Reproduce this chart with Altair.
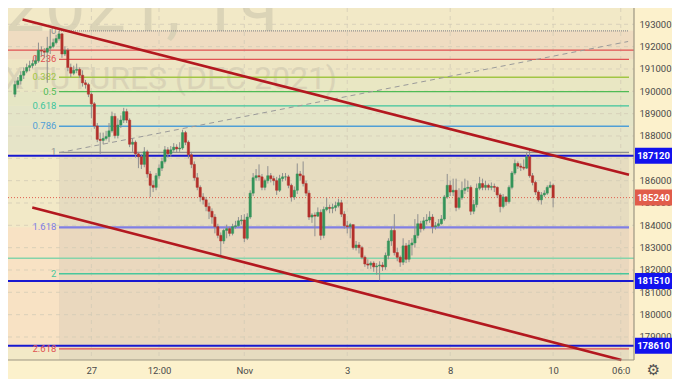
import altair as alt
import pandas as pd

# ---------------- data ----------------
first_open = 189870
closes = [
    190300, 190470, 190720, 190900, 191070, 191150, 191240, 191370, 191840, 191800,
    191750, 191930, 192010, 192180, 192360, 192570, 191670, 191840, 191070, 190810,
    190940, 190980, 190720, 190380, 190300, 189870, 189440, 188450, 187850, 187800,
    187890, 187970,
    188230, 188880, 188020, 188490, 188710, 189090, 188710, 187630, 187720,
    187200, 187070, 186730, 187290, 186300, 185790, 185700, 186220, 186560, 186860,
    187380, 187200, 187380, 187500, 187420,
    187460, 188150, 187720, 187160, 186730, 186130,
    185700, 185270, 185140, 184840, 184630, 184370, 183940, 183550, 183300, 183770,
    183850, 183640, 183940, 183980, 184200, 184240, 183420, 184370, 185440, 186130,
    186220, 186170, 185700, 186000, 186220, 186090, 186000, 185570, 186090, 186170,
    186170, 185790, 185270, 185570, 186300, 186220, 185870, 185440, 184370, 184460,
    184410, 184580, 183550, 184710, 184800, 184760, 184800, 184880, 185010, 184500,
    183980, 183940, 184030, 183000, 183120, 183000, 182570, 182270, 182220, 182310,
    182140, 182180, 182220, 182140, 182650, 183300, 183770, 182780, 182570, 182350,
    183080, 182480, 183120, 183210, 183550, 184070, 183850, 184200, 184240, 184370,
    183940, 183980, 184070, 184280, 185270, 185790, 185490, 185570, 184800, 185230,
    185570, 185660, 185700, 184630, 184930, 185660, 185870, 185700, 185790, 185700,
    185740, 185700, 185360, 184840, 185270, 185060, 185700, 186340, 186770, 186650,
    186600, 186560, 187070, 186220, 185920, 185490, 185140, 185360, 185440, 185700,
    185790, 185240,
]
highs = [
    190470, 190640, 190900, 191070, 191240, 191370, 191410, 191580, 192180, 192010,
    191930, 192440, 192790, 192360, 192530, 192700, 192610, 192010, 191930, 191240,
    191150, 191240, 191070, 190940, 190510, 190380, 189950, 189520, 188580, 188150,
    188150, 188230,
    188580, 189090, 189010, 188790, 188920, 189260, 189220, 188790, 187890,
    187800, 187290, 187200, 187500, 187380, 186430, 186000, 186340, 186730, 187030,
    187550, 187500, 187550, 187680, 187630,
    187720, 188280, 188230, 187800, 187290, 186860,
    186340, 185790, 185440, 185270, 185010, 184760, 184500, 184070, 183680, 183850,
    184030, 183940, 184070, 184200, 184370, 184460, 184500, 184540, 185570, 186340,
    186520, 186730, 186300, 186090, 186650, 186340, 186220, 186170, 186260, 186340,
    186340, 186260, 185870, 185740, 186770, 186430, 186860, 186000, 185570, 184540,
    184580, 184800, 184710, 184840, 185230, 184930, 184970, 185060, 185190, 185140,
    184630, 184200, 184110, 184030, 183300, 183250, 183080, 182650, 182480, 182390,
    182390, 182310, 182390, 182350, 182780, 183420, 183940, 184500, 183000, 182650,
    183420, 183210, 183340, 183420, 184280, 184500, 184200, 184370, 184500, 184630,
    184500, 184150, 184280, 184460, 185360, 186300, 186000, 186090, 186090, 185660,
    185960, 186090, 186000, 185790, 185140, 185870, 186170, 186090, 186000, 185870,
    185920, 185870, 185740, 185440, 185400, 185310, 185790, 186430, 186950, 186860,
    186770, 186950, 187290, 187420, 186340, 186000, 185570, 185490, 185570, 185790,
    185960, 185870,
]
lows = [
    189740, 190120, 190300, 190550, 190810, 190900, 191030, 191150, 191280, 191580,
    191500, 190380, 191670, 191930, 192100, 192270, 191500, 191580, 190900, 190640,
    190720, 190810, 190600, 190210, 190120, 189740, 188790, 188320, 187720, 187200,
    187630, 187800,
    187720, 188150, 187890, 187890, 188360, 188580, 188580, 187500, 187290,
    187030, 186560, 186520, 186600, 186130, 185270, 185490, 185570, 186090, 186430,
    186770, 187030, 187070, 187290, 187250,
    187290, 187380, 187590, 186990, 186560, 186000,
    185570, 185060, 184930, 184630, 184280, 184070, 183640, 183420, 182650, 183170,
    183420, 183510, 183550, 183850, 183940, 184030, 183250, 183340, 184280, 185310,
    186000, 186000, 185570, 185570, 185870, 185920, 185790, 185360, 185490, 185960,
    186000, 185660, 185060, 185140, 185400, 186000, 185740, 185310, 184240, 184110,
    183510, 184370, 183340, 183420, 184630, 184540, 184540, 184630, 184800, 184370,
    183850, 183640, 183420, 182910, 182870, 182740, 182480, 182140, 182050, 182050,
    181920, 181790, 181540, 181960, 182010, 182480, 183080, 182650, 182390, 182140,
    182220, 182310, 182350, 182650, 183000, 183420, 183680, 183770, 184030, 184110,
    183640, 183810, 183900, 184030, 184200, 185190, 185310, 185310, 184630, 184710,
    185140, 185400, 185490, 184460, 184500, 184800, 185570, 185570, 185570, 185570,
    185570, 185490, 185230, 184580, 184760, 184880, 184970, 185610, 186260, 186520,
    186430, 186470, 186520, 186130, 185790, 185360, 185060, 184930, 185270, 185360,
    185660, 184800,
]

time_tick_index = [26, 49, 78, 113, 148, 183, 206]
time_tick_labels = ["27", "12:00", "Nov", "3", "8", "10", "06:0"]
price_ticks = list(range(179000, 193001, 1000))

fib_price_0 = 192710
fib_price_1 = 187270
fib_ratios = [0, 0.236, 0.382, 0.5, 0.618, 0.786, 1, 1.618, 2, 2.618]
fib_labels = ["0", "0.236", "0.382", "0.5", "0.618", "0.786", "1", "1.618", "2", "2.618"]
fib_colors = ["#8f8f8f", "#e05252", "#a2c644", "#4fbb55", "#3cc59b", "#4f9fd6",
              "#8f8f8f", "#7f7fe4", "#48c79c", "#e05252"]
fib_widths = [1.2, 1.3, 1.5, 1.3, 1.3, 1.5, 1.2, 2.2, 1.5, 1.3]
band_colors = ["#efdcc1", "#eee6c4", "#e9e7c3", "#e5e6c4", "#e4e5c8", "#e6e4c8",
               None, "#f8e2c4", "#f8e2c4"]
fib_start_index = 15.0
fib_label_index = 14.1

hline_prices = [191840, 182530, 187120, 181510, 178610]
hline_colors = ["#e05252", "#86d4aa", "#1818d0", "#1818d0", "#1818d0"]
hline_widths = [1.2, 1.5, 2.0, 2.0, 2.0]

last_price = 185240
tag_prices = [187120, 185240, 181510, 178610]
tag_colors = ["#1212ee", "#e15c4a", "#1212ee", "#1212ee"]

upper_index = [2.6, 208.8]
upper_price = [193215, 186260]
lower_index = [5.9, 206.2]
lower_price = [184800, 177970]

diag_index = [15.0, 208.5]
diag_price = [187250, 192230]

# ---------------- layout ----------------
W, H = 626, 352
X_DOMAIN = [-0.65, 208.8]
Y_DOMAIN = [177970, 193730]
FONT = "Roboto"

xs = alt.Scale(domain=X_DOMAIN, nice=False, zero=False)
ys = alt.Scale(domain=Y_DOMAIN, nice=False, zero=False)

label_expr = " : ".join(
    f"datum.value == {i} ? '{l}'" for i, l in zip(time_tick_index, time_tick_labels)
) + " : ''"
x_axis = alt.Axis(values=time_tick_index, labelExpr=label_expr, title=None, ticks=False,
                  grid=False, domain=False, labelColor="#4a4a4a", labelFontSize=9.5,
                  labelFont=FONT, labelPadding=5, labelOverlap=False, labelFlush=False)
y_axis = alt.Axis(values=price_ticks, format="d", orient="right", title=None, ticks=False,
                  grid=False, domain=False, labelColor="#4a4a4a", labelFontSize=9.5,
                  labelFont=FONT, labelPadding=5, labelOverlap=False)


def X(f):
    return alt.X(f, type="quantitative", scale=xs, axis=x_axis)


def Y(f):
    return alt.Y(f, type="quantitative", scale=ys, axis=y_axis)


def one(**kw):
    return alt.Chart(pd.DataFrame({k: [v] for k, v in kw.items()}))


# candles table
opens = [first_open] + closes[:-1]
n = len(closes)
cdf = pd.DataFrame({
    "i": list(range(n)),
    "open": opens,
    "close": closes,
    "high": [max(h, o, c) for h, o, c in zip(highs, opens, closes)],
    "low": [min(l, o, c) for l, o, c in zip(lows, opens, closes)],
})
up = cdf[cdf["close"] >= cdf["open"]]
down = cdf[cdf["close"] < cdf["open"]]

fib_prices = [fib_price_0 - r * (fib_price_0 - fib_price_1) for r in fib_ratios]

layers = []

# fib background bands
for k in range(len(fib_prices) - 1):
    if band_colors[k]:
        layers.append(one(top=fib_prices[k], bottom=fib_prices[k + 1]).mark_rect(
            color=band_colors[k]).encode(
            x=alt.value(0), x2=alt.value(W), y=Y("top"), y2=alt.Y2("bottom")))

# grey overlay of the fib area
layers.append(one(x0=fib_start_index, x1=X_DOMAIN[1], top=fib_price_1,
                  bottom=Y_DOMAIN[0]).mark_rect(color="#c9bfae", opacity=0.3).encode(
    x=X("x0"), x2=alt.X2("x1"), y=Y("top"), y2=alt.Y2("bottom")))

# grid
layers.append(alt.Chart(pd.DataFrame({"p": price_ticks})).mark_rule(
    color="#d3ccb6", strokeDash=[4, 4], strokeWidth=0.8).encode(
    y=Y("p"), x=alt.value(0), x2=alt.value(W)))
layers.append(alt.Chart(pd.DataFrame({"i": time_tick_index})).mark_rule(
    color="#d3ccb6", strokeDash=[4, 4], strokeWidth=0.8).encode(
    x=X("i"), y=alt.value(0), y2=alt.value(H)))

# watermark
layers.append(one(t="RIZ2021, 1ч").mark_text(
    align="right", baseline="alphabetic", font=FONT, fontSize=72, color="#d6cfb4",
    opacity=0.8).encode(text="t:N", x=alt.value(270), y=alt.value(23)))
layers.append(one(t="RTS INDEX FUTURES (DEC 2021)").mark_text(
    align="right", baseline="alphabetic", font=FONT, fontSize=32, color="#d6cfb4",
    opacity=0.8).encode(text="t:N", x=alt.value(329), y=alt.value(81)))

# fib level lines
for k, (p, col, w) in enumerate(zip(fib_prices, fib_colors, fib_widths)):
    dash = [1, 1] if k == 0 else [1, 0]
    layers.append(one(p=p, x0=fib_start_index, x1=X_DOMAIN[1]).mark_rule(
        color=col, strokeWidth=w, strokeDash=dash).encode(
        x=X("x0"), x2=alt.X2("x1"), y=Y("p")))

# full-width horizontal lines
for p, col, w in zip(hline_prices, hline_colors, hline_widths):
    layers.append(one(p=p).mark_rule(color=col, strokeWidth=w).encode(
        y=Y("p"), x=alt.value(0), x2=alt.value(W)))

# last price dotted
layers.append(one(p=last_price).mark_rule(
    color="#e0604f", strokeDash=[1, 2], strokeWidth=1).encode(
    y=Y("p"), x=alt.value(0), x2=alt.value(W)))

# fib diagonal
layers.append(alt.Chart(pd.DataFrame({"i": diag_index, "p": diag_price})).mark_line(
    color="#9a9a9a", strokeDash=[5, 4], strokeWidth=1).encode(x=X("i"), y=Y("p")))

# fib labels
for p, lab, col in zip(fib_prices, fib_labels, fib_colors):
    layers.append(one(p=p, lx=fib_label_index, t=lab).mark_text(
        align="right", baseline="middle", font=FONT, fontSize=9.5, color=col).encode(
        x=X("lx"), y=Y("p"), text="t:N"))

# candles
layers.append(alt.Chart(cdf).mark_rule(color="#8f8f8f", strokeWidth=1).encode(
    x=X("i"), y=Y("low"), y2=alt.Y2("high")))
layers.append(alt.Chart(up).mark_bar(size=2.3, color="#35945a", stroke="#35945a",
                                     strokeWidth=0.5).encode(
    x=X("i"), y=Y("open"), y2=alt.Y2("close")))
layers.append(alt.Chart(down).mark_bar(size=2.3, color="#b3302b", stroke="#b3302b",
                                       strokeWidth=0.5).encode(
    x=X("i"), y=Y("open"), y2=alt.Y2("close")))

# trend channel
for ti, tp in ((upper_index, upper_price), (lower_index, lower_price)):
    layers.append(alt.Chart(pd.DataFrame({"i": ti, "p": tp})).mark_line(
        color="#b3181f", strokeWidth=2.6).encode(x=X("i"), y=Y("p")))

# frame lines (axis domains)
layers.append(one(k=0).mark_rule(color="#9c9682", strokeWidth=1.2).encode(
    x=alt.value(W), y=alt.value(0), y2=alt.value(H)))
layers.append(one(k=0).mark_rule(color="#9c9682", strokeWidth=1.2).encode(
    y=alt.value(H), x=alt.value(0), x2=alt.value(W)))

# price tags on the axis
for p, col in zip(tag_prices, tag_colors):
    layers.append(one(p=p).mark_rule(color=col, strokeWidth=16, strokeCap="butt").encode(
        y=Y("p"), x=alt.value(W + 1), x2=alt.value(W + 38)))
    layers.append(one(p=p, t=str(p)).mark_text(
        color="white", font=FONT, fontSize=9.5, fontWeight="bold", align="center",
        baseline="middle").encode(y=Y("p"), x=alt.value(W + 19.5), text="t:N"))

# settings glyph
layers.append(one(t="⚙").mark_text(
    font="DejaVu Sans", fontSize=15, color="#505050", align="center",
    baseline="middle").encode(text="t:N", x=alt.value(W + 19.5), y=alt.value(H + 10)))

chart = alt.layer(*layers).properties(
    width=W, height=H,
    padding={"left": 0, "top": 0, "right": 38, "bottom": 19},
    autosize=alt.AutoSizeParams(type="none"),
    background="#fcf1cc",
).configure_view(fill="#f2e9c7", stroke=None)

chart.save("out.html", embed_options={"renderer": "svg", "actions": False})
